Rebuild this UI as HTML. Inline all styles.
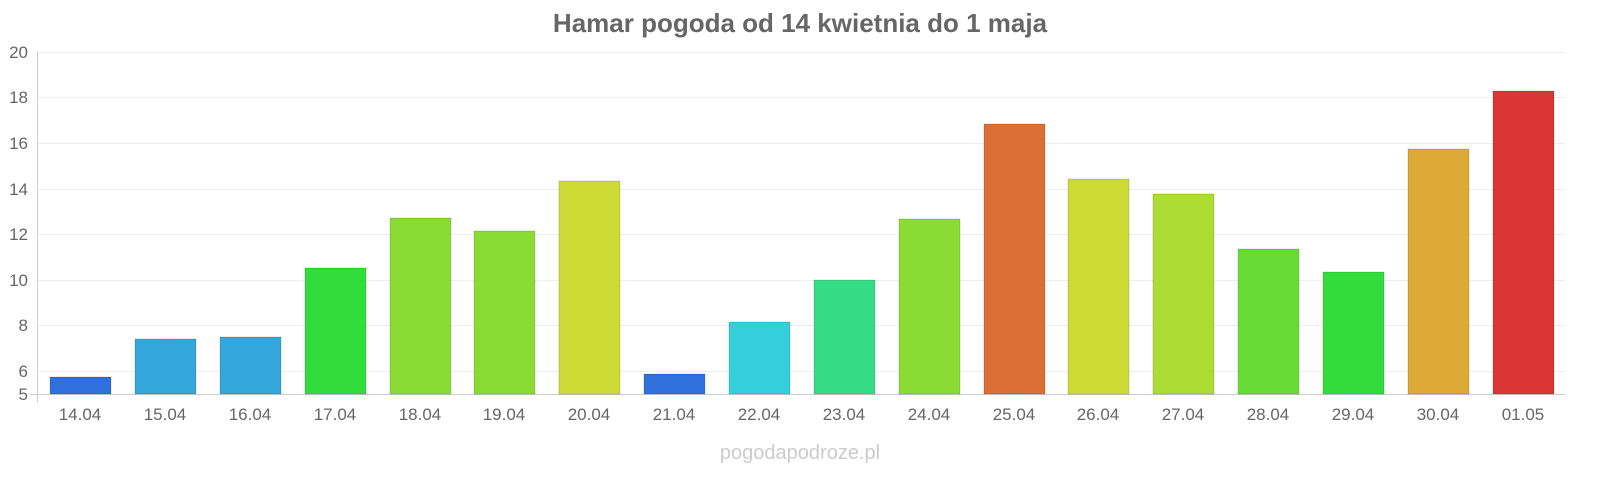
<!DOCTYPE html>
<html><head><meta charset="utf-8"><style>
html,body{margin:0;padding:0;background:#fff;}
svg{display:block;font-family:"Liberation Sans",sans-serif;}
</style></head><body>
<svg width="1600" height="480" viewBox="0 0 1600 480" xmlns="http://www.w3.org/2000/svg">
<text x="800" y="32" text-anchor="middle" font-size="26" font-weight="bold" fill="#666">Hamar pogoda od 14 kwietnia do 1 maja</text>
<g stroke="#eee" stroke-width="1">
<line x1="37" x2="1565" y1="52.5" y2="52.5"/>
<line x1="37" x2="1565" y1="97.5" y2="97.5"/>
<line x1="37" x2="1565" y1="143.5" y2="143.5"/>
<line x1="37" x2="1565" y1="189.5" y2="189.5"/>
<line x1="37" x2="1565" y1="234.5" y2="234.5"/>
<line x1="37" x2="1565" y1="280.5" y2="280.5"/>
<line x1="37" x2="1565" y1="325.5" y2="325.5"/>
<line x1="37" x2="1565" y1="371.5" y2="371.5"/>
</g>
<g font-size="17" fill="#666" text-anchor="end">
<text x="28" y="58">20</text><text x="28" y="103">18</text><text x="28" y="149">16</text><text x="28" y="195">14</text><text x="28" y="240">12</text><text x="28" y="286">10</text><text x="28" y="331">8</text><text x="28" y="377">6</text><text x="28" y="400">5</text>
</g>
<line x1="37.5" x2="37.5" y1="52" y2="402" stroke="#ccc"/>
<line x1="30" x2="1565" y1="394.5" y2="394.5" stroke="#ccc"/>
<g stroke-opacity="0.3" stroke="#000" stroke-width="0.5">
<rect x="50" y="377" width="61" height="17" fill="#3070dc"/>
<rect x="135" y="339" width="61" height="55" fill="#35a6dc"/>
<rect x="220" y="337" width="61" height="57" fill="#35a6dc"/>
<rect x="305" y="268" width="61" height="126" fill="#32dc3a"/>
<rect x="390" y="218" width="61" height="176" fill="#8adc35"/>
<rect x="474" y="231" width="61" height="163" fill="#8adc35"/>
<rect x="559" y="181" width="61" height="213" fill="#cddc35"/>
<rect x="644" y="374" width="61" height="20" fill="#3070dc"/>
<rect x="729" y="322" width="61" height="72" fill="#35cfdc"/>
<rect x="814" y="280" width="61" height="114" fill="#35dc88"/>
<rect x="899" y="219" width="61" height="175" fill="#8adc35"/>
<rect x="984" y="124" width="61" height="270" fill="#dc6f35"/>
<rect x="1068" y="179" width="61" height="215" fill="#cddc35"/>
<rect x="1153" y="194" width="61" height="200" fill="#addc35"/>
<rect x="1238" y="249" width="61" height="145" fill="#68dc35"/>
<rect x="1323" y="272" width="61" height="122" fill="#32dc3a"/>
<rect x="1408" y="149" width="61" height="245" fill="#dcaa35"/>
<rect x="1493" y="91" width="61" height="303" fill="#dc3535"/>
</g>
<g font-size="17" fill="#666" text-anchor="middle">
<text x="80" y="420">14.04</text><text x="165" y="420">15.04</text><text x="250" y="420">16.04</text><text x="335" y="420">17.04</text><text x="420" y="420">18.04</text><text x="504" y="420">19.04</text><text x="589" y="420">20.04</text><text x="674" y="420">21.04</text><text x="759" y="420">22.04</text><text x="844" y="420">23.04</text><text x="929" y="420">24.04</text><text x="1014" y="420">25.04</text><text x="1098" y="420">26.04</text><text x="1183" y="420">27.04</text><text x="1268" y="420">28.04</text><text x="1353" y="420">29.04</text><text x="1438" y="420">30.04</text><text x="1523" y="420">01.05</text>
</g>
<text x="800" y="459" text-anchor="middle" font-size="20" fill="#ccc">pogodapodroze.pl</text>
</svg>
</body></html>
